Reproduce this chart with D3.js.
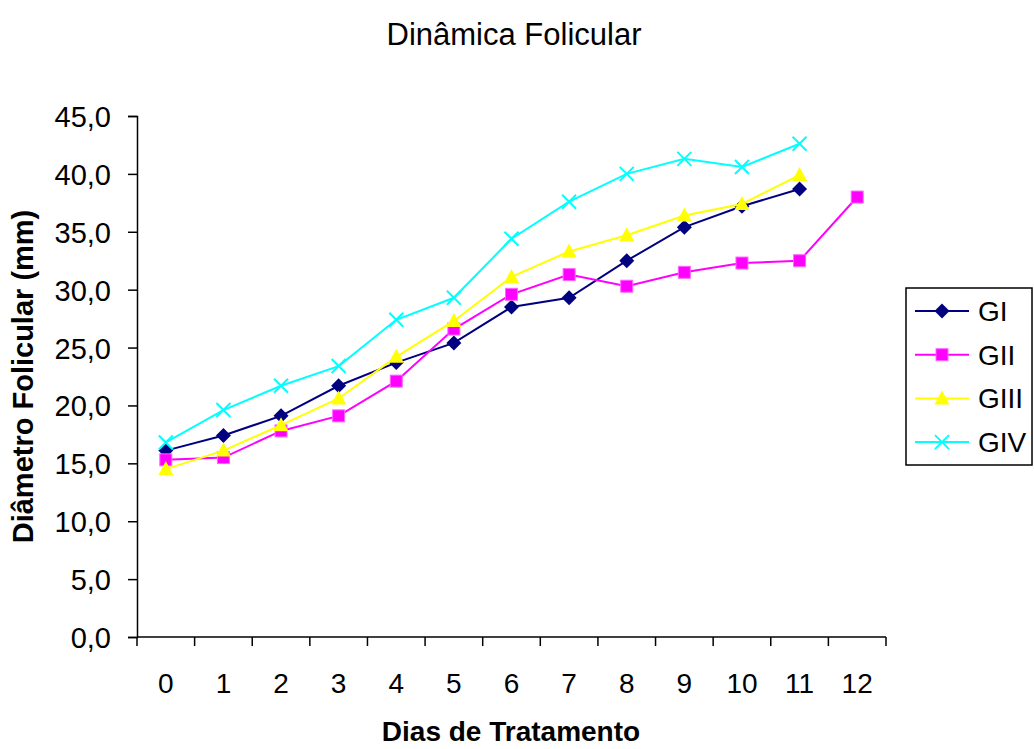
<!DOCTYPE html>
<html>
<head>
<meta charset="utf-8">
<script src="https://cdn.jsdelivr.net/npm/d3@7"></script>
<style>
  body { margin: 0; background: #fff; }
  text { font-family: "Liberation Sans", Arial, sans-serif; fill: #000; }
</style>
</head>
<body>
<script>
const width = 1034
const height = 749

// Data
const days = ['0', '1', '2', '3', '4', '5', '6', '7', '8', '9', '10', '11', '12']
const gI = [16.1, 17.4, 19.1, 21.7, 23.7, 25.4, 28.5, 29.3, 32.5, 35.4, 37.2, 38.7]
const gII = [15.3, 15.5, 17.8, 19.1, 22.1, 26.6, 29.6, 31.3, 30.3, 31.5, 32.3, 32.5, 38.0]
const gIII = [14.5, 16.1, 18.3, 20.6, 24.2, 27.3, 31.1, 33.3, 34.7, 36.4, 37.4, 39.9]
const gIV = [16.8, 19.6, 21.7, 23.4, 27.4, 29.3, 34.4, 37.6, 40.0, 41.3, 40.6, 42.6]
const yTicks = [0, 5, 10, 15, 20, 25, 30, 35, 40, 45]

const series = [
  { name: 'GI', values: gI, color: '#000080', symbol: 'diamond' },
  { name: 'GII', values: gII, color: '#ff00ff', symbol: 'square' },
  { name: 'GIII', values: gIII, color: '#ffff00', symbol: 'triangle' },
  { name: 'GIV', values: gIV, color: '#00ffff', symbol: 'cross' }
]

const plot = { left: 137, right: 886, top: 116, bottom: 637 }

const svg = d3.select('body').append('svg')
  .attr('width', width)
  .attr('height', height)

const x = d3.scaleBand()
  .domain(days)
  .range([plot.left, plot.right])

const y = d3.scaleLinear()
  .domain([0, 45])
  .range([plot.bottom, plot.top])

const fmt = d => d.toFixed(1).replace('.', ',')

// Y axis
const yAxis = svg.append('g')
  .attr('transform', `translate(${plot.left},0)`)
  .call(d3.axisLeft(y).tickValues(yTicks).tickFormat(fmt).tickSize(9).tickPadding(17))
yAxis.select('.domain').attr('stroke', '#000').attr('stroke-width', 1.5)
yAxis.selectAll('.tick line').attr('stroke', '#000').attr('stroke-width', 1.5)
yAxis.selectAll('.tick text')
  .attr('font-size', 29)
  .attr('dy', '0.36em')
  .style('font-family', '"Liberation Sans", Arial, sans-serif')

// X axis: ticks sit between categories, Excel style
const xAxis = svg.append('g')
  .attr('transform', `translate(0,${plot.bottom})`)
xAxis.append('line')
  .attr('x1', plot.left).attr('x2', plot.right)
  .attr('stroke', '#000').attr('stroke-width', 1.5)
xAxis.selectAll('line.tick')
  .data(days.concat(['end']))
  .enter().append('line').classed('tick', true)
  .attr('x1', (d, i) => i < days.length ? x(d) : plot.right)
  .attr('x2', (d, i) => i < days.length ? x(d) : plot.right)
  .attr('y1', 0).attr('y2', 9)
  .attr('stroke', '#000').attr('stroke-width', 1.5)
xAxis.selectAll('text.label')
  .data(days)
  .enter().append('text').classed('label', true)
  .attr('x', d => x(d) + x.bandwidth() / 2)
  .attr('y', 56)
  .attr('text-anchor', 'middle')
  .attr('font-size', 28)
  .text(d => d)

// Titles
svg.append('text')
  .attr('x', 514).attr('y', 45)
  .attr('text-anchor', 'middle')
  .attr('font-size', 31)
  .text('Dinâmica Folicular')

svg.append('text')
  .attr('x', 511).attr('y', 741)
  .attr('text-anchor', 'middle')
  .attr('font-size', 28)
  .attr('font-weight', 'bold')
  .text('Dias de Tratamento')

svg.append('text')
  .attr('transform', `translate(33,${(plot.top + plot.bottom) / 2}) rotate(-90)`)
  .attr('text-anchor', 'middle')
  .attr('font-size', 29)
  .attr('font-weight', 'bold')
  .text('Diâmetro Folicular (mm)')

// Marker drawing
function drawMarker(g, s) {
  if (s.symbol === 'diamond') {
    g.append('path').attr('d', 'M0,-7.5L7.5,0L0,7.5L-7.5,0Z').attr('fill', s.color)
  } else if (s.symbol === 'square') {
    g.append('rect').attr('x', -6).attr('y', -6).attr('width', 12).attr('height', 12)
      .attr('fill', s.color).attr('stroke', '#ff66ff').attr('stroke-width', 1)
  } else if (s.symbol === 'triangle') {
    g.append('path').attr('d', 'M0,-8L7.5,6L-7.5,6Z').attr('fill', s.color)
  } else {
    g.append('path').attr('d', 'M-7,-7L7,7M7,-7L-7,7')
      .attr('stroke', s.color).attr('stroke-width', 2).attr('fill', 'none')
  }
}

const line = d3.line()
  .x((d, i) => x(days[i]) + x.bandwidth() / 2)
  .y(d => y(d))

const lines = svg.append('g').classed('series', true)
series.forEach(s => {
  const g = lines.append('g')
  g.append('path')
    .attr('d', line(s.values))
    .attr('fill', 'none')
    .attr('stroke', s.color)
    .attr('stroke-width', 2)
  g.selectAll('g.marker')
    .data(s.values)
    .enter().append('g').classed('marker', true)
    .attr('transform', (d, i) => `translate(${x(days[i]) + x.bandwidth() / 2},${y(d)})`)
    .each(function() { drawMarker(d3.select(this), s) })
})

// Legend
const legend = svg.append('g').attr('transform', 'translate(906,288)')
legend.append('rect')
  .attr('width', 126).attr('height', 177)
  .attr('fill', '#fff').attr('stroke', '#000').attr('stroke-width', 1.5)
const item = legend.selectAll('g.item')
  .data(series)
  .enter().append('g').classed('item', true)
  .attr('transform', (d, i) => `translate(0,${23 + i * 43.7})`)
item.append('line')
  .attr('x1', 9).attr('x2', 63)
  .attr('stroke', d => d.color).attr('stroke-width', 2)
item.append('g')
  .attr('transform', 'translate(36,0)')
  .each(function(d) { drawMarker(d3.select(this), d) })
item.append('text')
  .attr('x', 72).attr('y', 10)
  .attr('font-size', 28)
  .text(d => d.name)
</script>
</body>
</html>
